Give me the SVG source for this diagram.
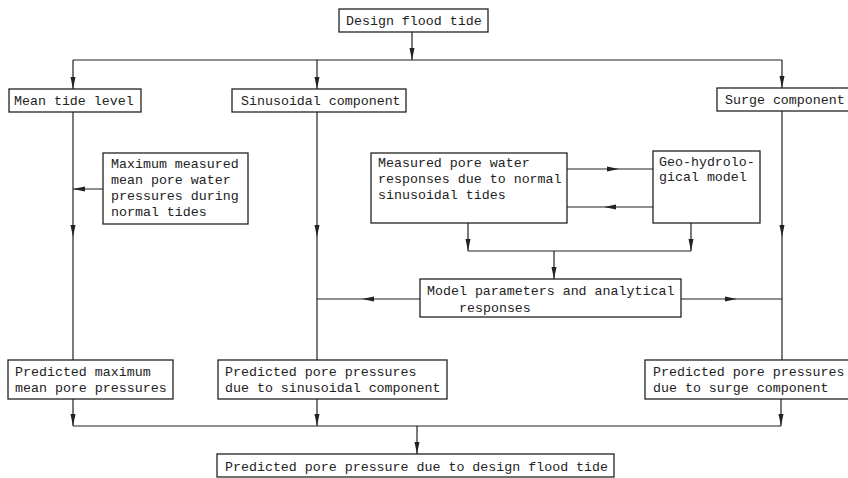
<svg xmlns="http://www.w3.org/2000/svg" width="848" height="478" viewBox="0 0 848 478">
<style>
.box{fill:#fff;stroke:#222;stroke-width:1.3}
.ln{fill:none;stroke:#222;stroke-width:1.2}
text{font-family:"Liberation Mono","DejaVu Sans Mono",monospace;font-size:13.3px;fill:#222}
</style>
<defs>
<path id="ad" d="M0,0 L-2.5,-12 L2.5,-12 Z" fill="#222"/>
<path id="al" d="M0,0 L12,-2.5 L12,2.5 Z" fill="#222"/>
<path id="ar" d="M0,0 L-12,-2.5 L-12,2.5 Z" fill="#222"/>
</defs>
<rect width="848" height="478" fill="#fff"/>
<g id="connectors">
<path class="ln" d="M412,32 V60 M73,60 H782 M73,60 V89 M317,60 V89 M782,60 V88"/>
<path class="ln" d="M73,112 V360 M103,189 H73 M317,112 V360 M420,299 H317 M782,111 V360 M681,299 H782"/>
<path class="ln" d="M567,169 H653 M653,207 H567 M468,223 V251 M691,223 V251 M468,251 H691 M554,251 V279"/>
<path class="ln" d="M73,399 V426 M317,399 V426 M781,399 V426 M73,426 H781 M417,426 V454"/>
<use href="#ad" x="412" y="60"/>
<use href="#ad" x="73" y="89"/>
<use href="#ad" x="317" y="89"/>
<use href="#ad" x="782" y="88"/>
<use href="#ad" x="73" y="237"/>
<use href="#al" x="73" y="189"/>
<use href="#ad" x="317" y="237"/>
<use href="#al" x="362" y="299"/>
<use href="#ar" x="619" y="169"/>
<use href="#al" x="604" y="207"/>
<use href="#ad" x="468" y="251"/>
<use href="#ad" x="691" y="251"/>
<use href="#ad" x="554" y="279"/>
<use href="#ar" x="737" y="299"/>
<use href="#ad" x="782" y="237"/>
<use href="#ad" x="73" y="426"/>
<use href="#ad" x="317" y="426"/>
<use href="#ad" x="781" y="426"/>
<use href="#ad" x="417" y="454"/>
</g>
<g id="design"><rect class="box" x="339" y="9" width="149" height="23"/><text x="346" y="25">Design flood tide</text></g>
<g id="mean"><rect class="box" x="9" y="89" width="132" height="23"/><text x="14" y="105">Mean tide level</text></g>
<g id="sinus"><rect class="box" x="232" y="89" width="174" height="23"/><text x="241" y="105">Sinusoidal component</text></g>
<g id="surge"><rect class="box" x="717" y="88" width="140" height="23"/><text x="725" y="104">Surge component</text></g>
<g id="maxmeas"><rect class="box" x="103" y="153" width="145" height="71"/>
<text x="111" y="168">Maximum measured</text><text x="111" y="184">mean pore water</text><text x="111" y="200">pressures during</text><text x="111" y="216">normal tides</text></g>
<g id="measured"><rect class="box" x="371" y="153" width="196" height="70"/>
<text x="378" y="167">Measured pore water</text><text x="378" y="183">responses due to normal</text><text x="378" y="199">sinusoidal tides</text></g>
<g id="geo"><rect class="box" x="653" y="151" width="107" height="72"/>
<text x="659" y="166">Geo-hydrolo-</text><text x="659" y="181">gical model</text></g>
<g id="model"><rect class="box" x="420" y="279" width="261" height="38"/>
<text x="427" y="295">Model parameters and analytical</text><text x="459" y="312">responses</text></g>
<g id="predmax"><rect class="box" x="8" y="360" width="165" height="39"/>
<text x="15" y="376">Predicted maximum</text><text x="15" y="392">mean pore pressures</text></g>
<g id="predsin"><rect class="box" x="218" y="360" width="229" height="39"/>
<text x="225" y="376">Predicted pore pressures</text><text x="225" y="392">due to sinusoidal component</text></g>
<g id="predsurge"><rect class="box" x="645" y="360" width="212" height="39"/>
<text x="653" y="376">Predicted pore pressures</text><text x="653" y="392">due to surge component</text></g>
<g id="final"><rect class="box" x="217" y="454" width="397" height="23"/>
<text x="225" y="471">Predicted pore pressure due to design flood tide</text></g>
</svg>
